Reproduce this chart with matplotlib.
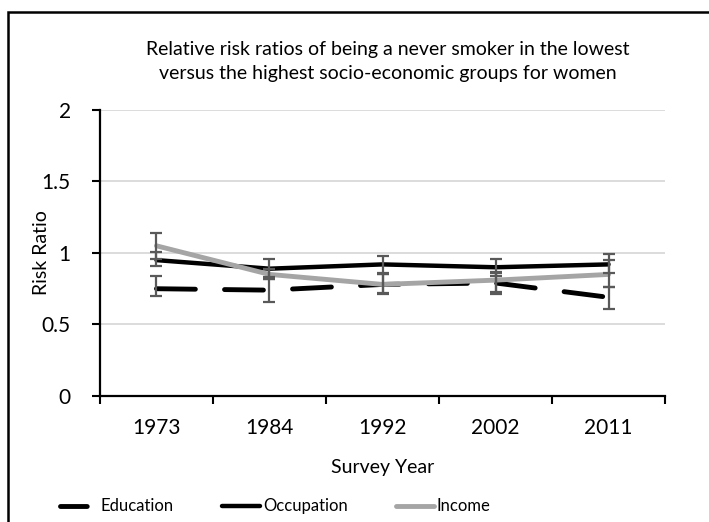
import matplotlib.pyplot as plt
import matplotlib.patches as patches
from matplotlib.lines import Line2D
import numpy as np

years = ['1973', '1984', '1992', '2002', '2011']

education = [0.75, 0.74, 0.78, 0.79, 0.69]
education_lo = [0.70, 0.66, 0.71, 0.71, 0.61]
education_hi = [0.84, 0.82, 0.85, 0.86, 0.76]

occupation = [0.95, 0.89, 0.92, 0.90, 0.92]
occupation_lo = [0.91, 0.83, 0.86, 0.84, 0.86]
occupation_hi = [1.01, 0.96, 0.98, 0.96, 0.99]

income = [1.05, 0.85, 0.78, 0.81, 0.85]
income_lo = [0.96, 0.82, 0.72, 0.73, 0.76]
income_hi = [1.14, 0.89, 0.85, 0.87, 0.95]

plt.rcParams['font.family'] = ['Lato', 'DejaVu Sans']

fig = plt.figure(figsize=(7.09, 5.22), dpi=100)
ax = fig.add_axes([0.141, 0.2414, 0.797, 0.548])

x = np.arange(len(years))
errcol = '#595959'

def draw(vals, lo, hi, **kw):
    vals = np.array(vals)
    yerr = [vals - np.array(lo), np.array(hi) - vals]
    ax.errorbar(x, vals, yerr=yerr, fmt='none', ecolor=errcol,
                elinewidth=1.6, capsize=4, capthick=1.6, zorder=3)
    return ax.plot(x, vals, zorder=2, solid_capstyle='round',
                   dash_capstyle='round', **kw)[0]

draw(education, education_lo, education_hi, color='black', lw=3.5,
     dashes=(8, 6))
l2 = draw(occupation, occupation_lo, occupation_hi, color='black', lw=3.2)
l3 = draw(income, income_lo, income_hi, color='#a5a5a5', lw=3.5)
# legend proxy for the dashed line (shorter dashes, like the original)
l1 = Line2D([], [], color='black', lw=3.5, dashes=(5.5, 2.5),
            dash_capstyle='round')

ax.set_xlim(-0.5, 4.5)
ax.set_ylim(0, 2)
ax.set_yticks([0, 0.5, 1, 1.5, 2])
ax.set_yticklabels(['0', '0.5', '1', '1.5', '2'])
ax.set_xticks(x)
ax.set_xticklabels(years)
ax.set_xticks(np.arange(-0.5, 5, 1), minor=True)
ax.tick_params(axis='x', which='major', length=0, pad=16, labelsize=15)
ax.tick_params(axis='x', which='minor', length=6, width=1.5, direction='out')
ax.tick_params(axis='y', length=6, width=1.5, pad=15, labelsize=15)

ax.grid(axis='y', color='#d9d9d9', lw=1.3, zorder=0)
ax.set_axisbelow(True)
for s in ['top', 'right']:
    ax.spines[s].set_visible(False)
ax.spines['left'].set_linewidth(1.6)
ax.spines['bottom'].set_linewidth(1.6)

ax.set_xlabel('Survey Year', fontsize=14, labelpad=15)
ax.set_ylabel('Risk Ratio', fontsize=14)
ax.yaxis.set_label_coords(-0.088, 0.5)
ax.set_title('Relative risk ratios of being a never smoker in the lowest\n'
             'versus the highest socio-economic groups for women',
             fontsize=14, linespacing=1.55, pad=22, x=0.51)

fig.legend([l1, l2, l3], ['Education', 'Occupation', 'Income'],
           loc='center', bbox_to_anchor=(0.388, 0.03), ncol=3, frameon=False,
           fontsize=12, handlelength=2.3, handletextpad=0.15,
           columnspacing=2.9)

# outer chart frame
fig.patches.append(patches.Rectangle((8 / 709, -0.1), 1.2, (510 / 522) + 0.1,
                                     transform=fig.transFigure, fill=False,
                                     edgecolor='black', lw=1.8))

fig.savefig('out.png', dpi=100)
